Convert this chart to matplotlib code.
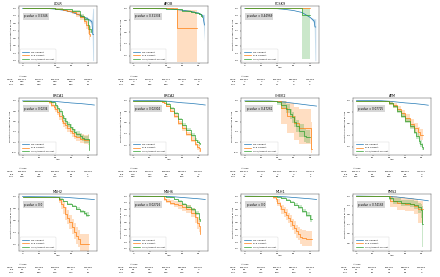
import matplotlib
matplotlib.use("Agg")
import matplotlib.pyplot as plt
import matplotlib.transforms as mtransforms
import numpy as np

# ── colours / layout ─────────────────────────────────────────
BLUE = "#1f77b4"
ORANGE = "#ff7f0e"
GREEN = "#2ca02c"
GROUP_LABELS = ["No Variant", "PLP Variant", "VUS/Absent Variant"]
ROW_LABELS = ["None", "PLP", "VUS"]
AGE_TICKS = [0, 20, 40, 60, 80]

# ── survival curves: (age, surv, lower CI, upper CI) ─────────
LDLR_NONE = [(0, 1, 1, 1), (30, .998, .998, .998), (40, .99, .99, .99), (50, .975, .975, .975),
             (60, .95, .95, .95), (70, .91, .905, .915), (80, .86, .85, .87), (85, .82, .79, .85),
             (86, .65, .30, 1.0), (87, .65, .30, 1.0)]
LDLR_PLP = [(0, 1, 1, 1), (40, .995, .99, 1), (50, .98, .97, .99), (55, .965, .95, .98),
            (60, .95, .93, .97), (65, .92, .89, .95), (70, .88, .85, .91), (75, .83, .79, .87),
            (78, .78, .73, .83), (80, .72, .66, .78), (82, .65, .57, .73), (83, .63, .55, .71)]
LDLR_VUS = [(0, 1, 1, 1), (40, .997, .99, 1), (50, .985, .975, .995), (60, .96, .945, .975),
            (70, .90, .875, .925), (75, .86, .83, .89), (80, .78, .74, .82), (82, .72, .67, .77),
            (84, .68, .62, .74)]

APOB_NONE = [(0, 1, 1, 1), (40, .995, .995, .995), (50, .985, .985, .985), (60, .97, .97, .97),
             (70, .95, .95, .95), (80, .92, .91, .93), (85, .88, .86, .90), (86, .80, .65, .90),
             (87, .72, .45, .90)]
APOB_PLP = [(0, 1, 1, 1), (53, .667, .10, .97), (78, .667, .10, .97)]
APOB_VUS = [(0, 1, 1, 1), (40, .995, .99, 1), (50, .985, .975, .995), (60, .965, .955, .975),
            (70, .945, .93, .96), (75, .93, .915, .945), (80, .91, .89, .93), (83, .88, .855, .905),
            (84, .85, .82, .88)]

PCSK9_NONE = [(0, 1, 1, 1), (40, .995, .995, .995), (50, .985, .985, .985), (60, .97, .97, .97),
              (70, .945, .945, .945), (80, .88, .875, .885), (85, .83, .80, .86), (86, .75, .30, .86),
              (87, .75, .30, .86)]
PCSK9_PLP = [(0, 1, 1, 1), (80, 1, 1, 1)]
PCSK9_VUS = [(0, 1, 1, 1), (70, .91, .32, 1.0), (80, .91, .32, 1.0)]

BRCA1_NONE = [(0, 1, 1, 1), (30, .999, .999, .999), (40, .99, .99, .99), (50, .975, .975, .975),
              (60, .96, .96, .96), (70, .95, .95, .95), (80, .935, .935, .935), (88, .92, .92, .92)]
BRCA1_PLP = [(0, 1, 1, 1), (28, .99, .97, 1), (32, .97, .94, 1), (35, .93, .89, .97),
             (38, .88, .83, .93), (40, .84, .78, .90), (42, .78, .72, .84), (45, .70, .63, .77),
             (48, .62, .55, .69), (50, .57, .50, .64), (52, .53, .46, .60), (55, .47, .40, .54),
             (58, .42, .35, .49), (60, .38, .31, .45), (63, .33, .26, .40), (66, .30, .23, .37),
             (70, .27, .19, .35), (75, .25, .16, .34), (80, .25, .14, .36), (82, .25, .14, .36)]
BRCA1_VUS = [(0, 1, 1, 1), (30, .995, .98, 1), (35, .97, .95, .99), (40, .92, .89, .95),
             (42, .87, .83, .91), (45, .80, .76, .84), (48, .72, .67, .77), (50, .66, .61, .71),
             (52, .61, .56, .66), (55, .55, .50, .60), (58, .50, .45, .55), (60, .45, .40, .50),
             (63, .40, .35, .45), (66, .36, .31, .41), (70, .32, .26, .38), (73, .28, .22, .34),
             (75, .26, .19, .33), (80, .26, .18, .34), (81, .04, .0, .20), (82, .04, .0, .20)]

BRCA2_NONE = [(0, 1, 1, 1), (30, .999, .999, .999), (40, .99, .99, .99), (50, .975, .975, .975),
              (60, .96, .96, .96), (70, .95, .95, .95), (80, .935, .935, .935), (88, .92, .92, .92)]
BRCA2_PLP = [(0, 1, 1, 1), (35, .98, .96, 1), (38, .95, .93, .97), (40, .91, .88, .94),
             (45, .82, .79, .85), (50, .72, .68, .76), (55, .60, .56, .64), (60, .50, .46, .54),
             (65, .40, .36, .44), (70, .30, .26, .34), (75, .22, .18, .26), (78, .17, .12, .22),
             (80, .14, .08, .20), (82, .10, .04, .18)]
BRCA2_VUS = [(0, 1, 1, 1), (35, .99, .98, 1), (40, .94, .92, .96), (45, .86, .84, .88),
             (50, .77, .75, .79), (55, .67, .65, .69), (60, .57, .55, .59), (65, .47, .45, .50),
             (70, .38, .35, .41), (75, .30, .27, .33), (78, .26, .23, .30), (80, .23, .19, .27),
             (82, .22, .18, .27)]

CHEK2_NONE = [(0, 1, 1, 1), (30, .999, .999, .999), (40, .99, .99, .99), (50, .975, .975, .975),
              (60, .955, .955, .955), (70, .935, .935, .935), (80, .915, .915, .915), (88, .90, .90, .90)]
CHEK2_PLP = [(0, 1, 1, 1), (45, .857, .55, 1.0), (52, .71, .38, .95), (60, .57, .25, .88),
             (66, .48, .16, .84), (80, .48, .16, .84), (81, .06, .0, .60), (82, .06, .0, .60)]
CHEK2_VUS = [(0, 1, 1, 1), (40, .97, .92, 1), (45, .92, .85, .99), (50, .85, .76, .94),
             (55, .75, .65, .85), (58, .68, .57, .79), (60, .60, .49, .71), (63, .52, .40, .64),
             (67, .42, .30, .55), (72, .33, .21, .46), (75, .30, .19, .44), (80, .30, .19, .44)]

ATM_NONE = [(0, 1, 1, 1), (30, .999, .999, .999), (40, .99, .99, .99), (50, .975, .975, .975),
            (60, .96, .96, .96), (70, .95, .95, .95), (80, .935, .935, .935), (88, .92, .92, .92)]
ATM_PLP = [(0, 1, 1, 1), (35, .99, .97, 1), (40, .96, .93, .99), (45, .92, .88, .96),
           (50, .86, .81, .91), (55, .78, .72, .84), (60, .70, .63, .77), (65, .60, .52, .68),
           (70, .52, .44, .61), (75, .45, .36, .54), (78, .40, .31, .51), (82, .40, .30, .52)]
ATM_VUS = [(0, 1, 1, 1), (35, .99, .98, 1), (40, .95, .93, .97), (45, .90, .87, .93),
           (50, .82, .79, .85), (55, .74, .70, .78), (60, .65, .61, .69), (65, .55, .50, .60),
           (70, .46, .41, .51), (73, .38, .33, .44), (76, .30, .24, .36), (78, .25, .19, .32),
           (80, .20, .14, .27), (82, .15, .08, .24)]

MSH2_NONE = [(0, 1, 1, 1), (40, .995, .995, .995), (50, .99, .99, .99), (60, .98, .98, .98),
             (70, .97, .97, .97), (80, .96, .96, .96), (88, .95, .95, .95)]
MSH2_PLP = [(0, 1, 1, 1), (45, .95, .90, 1), (47, .88, .80, .96), (50, .82, .72, .92),
            (52, .72, .61, .83), (55, .65, .54, .77), (57, .58, .46, .70), (60, .50, .38, .63),
            (63, .42, .30, .56), (65, .35, .22, .49), (68, .30, .17, .44), (70, .22, .10, .38),
            (82, .22, .10, .38)]
MSH2_VUS = [(0, 1, 1, 1), (40, .99, .985, .995), (45, .96, .95, .97), (50, .92, .905, .935),
            (55, .88, .86, .90), (60, .84, .82, .86), (65, .80, .775, .825), (70, .76, .735, .785),
            (75, .73, .70, .76), (78, .70, .66, .74), (82, .70, .66, .74)]

MSH6_NONE = [(0, 1, 1, 1), (40, .995, .995, .995), (50, .99, .99, .99), (60, .98, .98, .98),
             (70, .97, .97, .97), (80, .96, .96, .96), (88, .95, .95, .95)]
MSH6_PLP = [(0, 1, 1, 1), (38, .95, .92, .98), (40, .93, .90, .96), (45, .90, .86, .94),
            (50, .88, .84, .92), (55, .86, .81, .91), (60, .83, .78, .88), (65, .80, .74, .86),
            (70, .75, .68, .82), (75, .68, .60, .76), (78, .60, .51, .69), (80, .55, .45, .65),
            (82, .42, .22, .60)]
MSH6_VUS = [(0, 1, 1, 1), (40, .99, .985, .995), (45, .98, .97, .99), (50, .95, .94, .96),
            (55, .92, .905, .935), (60, .88, .86, .90), (65, .84, .82, .86), (70, .80, .775, .825),
            (75, .74, .71, .77), (80, .65, .61, .69), (82, .62, .56, .68)]

MLH1_NONE = [(0, 1, 1, 1), (40, .995, .995, .995), (50, .99, .99, .99), (60, .98, .98, .98),
             (70, .97, .97, .97), (80, .96, .96, .96), (88, .95, .95, .95)]
MLH1_PLP = [(0, 1, 1, 1), (35, .98, .95, 1), (38, .95, .91, .99), (40, .90, .85, .95),
            (43, .85, .79, .91), (45, .80, .73, .87), (48, .76, .69, .83), (50, .72, .64, .80),
            (53, .67, .59, .75), (55, .62, .54, .71), (58, .57, .48, .66), (60, .52, .43, .62),
            (63, .47, .37, .57), (65, .43, .33, .54), (68, .38, .28, .50), (70, .36, .25, .48),
            (75, .35, .24, .47), (82, .35, .24, .47)]
MLH1_VUS = [(0, 1, 1, 1), (40, .99, .985, .995), (45, .97, .96, .98), (50, .94, .925, .955),
            (55, .91, .89, .93), (60, .87, .85, .89), (65, .83, .80, .86), (70, .78, .75, .81),
            (75, .72, .68, .76), (80, .66, .61, .71), (82, .65, .59, .71)]

PMS2_NONE = [(0, 1, 1, 1), (40, .995, .995, .995), (50, .99, .99, .99), (60, .98, .98, .98),
             (70, .97, .97, .97), (80, .96, .96, .96), (88, .95, .95, .95)]
PMS2_PLP = [(0, 1, 1, 1), (41, .95, .88, 1), (50, .93, .85, .99), (60, .92, .84, .98),
            (70, .90, .81, .97), (75, .86, .72, .95), (82, .86, .72, .95)]
PMS2_VUS = [(0, 1, 1, 1), (40, .98, .96, 1), (45, .95, .92, .98), (55, .93, .89, .96),
            (65, .92, .88, .955), (70, .91, .86, .95), (75, .88, .82, .93), (79, .85, .77, .92),
            (80, .70, .46, .90), (82, .70, .46, .90)]

# ── panels ───────────────────────────────────────────────────
GENES = ["LDLR", "APOB", "PCSK9", "BRCA1", "BRCA2", "CHEK2", "ATM", "MSH2", "MSH6", "MLH1", "PMS2"]
P_VALUES = ["0.5346", "0.31334", "0.44969", "0.0234", "0.02304", "0.47261", "0.07725",
            "0.0", "0.02726", "0.0", "0.74163"]
CURVES = [
    (LDLR_NONE, LDLR_PLP, LDLR_VUS), (APOB_NONE, APOB_PLP, APOB_VUS),
    (PCSK9_NONE, PCSK9_PLP, PCSK9_VUS), (BRCA1_NONE, BRCA1_PLP, BRCA1_VUS),
    (BRCA2_NONE, BRCA2_PLP, BRCA2_VUS), (CHEK2_NONE, CHEK2_PLP, CHEK2_VUS),
    (ATM_NONE, ATM_PLP, ATM_VUS), (MSH2_NONE, MSH2_PLP, MSH2_VUS),
    (MSH6_NONE, MSH6_PLP, MSH6_VUS), (MLH1_NONE, MLH1_PLP, MLH1_VUS),
    (PMS2_NONE, PMS2_PLP, PMS2_VUS),
]
Y_LIMITS = [(0.27, 1.03), (0.08, 1.04), (0.27, 1.03), (-0.05, 1.05), (0.02, 1.04), (-0.05, 1.05),
            (0.05, 1.04), (0.1, 1.04), (0.17, 1.03), (0.17, 1.03), (0.42, 1.02)]
Y_STEPS = [0.1, 0.2, 0.1, 0.2, 0.2, 0.2, 0.2, 0.2, 0.1, 0.1, 0.1]

# at-risk counts at ages 0, 20, 40, 60, 80
RISK_NONE = [
    [565222, 563172, 545478, 467978, 245886], [565073, 563173, 545177, 466994, 245330],
    [565380, 563360, 545282, 466984, 245418], [565302, 563195, 545362, 467118, 246606],
    [565213, 563145, 545082, 467052, 246601], [565374, 563292, 545231, 466977, 246473],
    [565271, 563203, 545080, 466830, 246540], [565060, 563088, 545029, 466905, 276955],
    [565344, 563269, 545408, 466958, 276642], [565141, 563132, 545172, 466022, 276923],
    [565126, 563108, 545131, 466223, 276868],
]
RISK_PLP = [[322, 322, 319, 287, 21], [3, 3, 3, 2, 0], [7, 7, 7, 6, 0], [66, 66, 57, 29, 1],
            [119, 117, 99, 46, 3], [7, 7, 7, 4, 1], [83, 83, 83, 53, 4], [22, 22, 22, 9, 1],
            [79, 79, 68, 38, 4], [98, 98, 96, 43, 2], [24, 24, 23, 10, 1]]
RISK_VUS = [[323, 323, 321, 293, 26], [535, 535, 530, 475, 45], [11, 11, 11, 9, 2],
            [138, 136, 122, 57, 3], [450, 444, 384, 202, 13], [31, 31, 29, 14, 1],
            [195, 195, 189, 108, 6], [280, 280, 276, 214, 16], [342, 340, 336, 276, 22],
            [212, 212, 209, 160, 17], [68, 68, 67, 36, 3]]

PANEL_SLOTS = [(0, 0), (0, 1), (0, 2), (1, 0), (1, 1), (1, 2), (1, 3),
               (2, 0), (2, 1), (2, 2), (2, 3)]
COL_LEFT = [0.043, 0.295, 0.548, 0.802]
ROW_BOTTOM = [0.773, 0.44, 0.094]
AX_W, AX_H = 0.178, 0.205

FS = 1.7


def draw_curve(ax, rows, color, label, smooth=False):
    arr = np.array(rows, dtype=float)
    t, s, lo, hi = arr.T
    if smooth:
        ax.plot(t, s, color=color, lw=0.5, label=label)
        ax.fill_between(t, lo, hi, color=color, alpha=0.25, lw=0)
    else:
        ax.step(t, s, where="post", color=color, lw=0.5, label=label)
        ax.fill_between(t, lo, hi, step="post", color=color, alpha=0.25, lw=0)


fig = plt.figure(figsize=(4.4, 2.77), dpi=100)
fig.patch.set_facecolor("white")

for i, gene in enumerate(GENES):
    r, c = PANEL_SLOTS[i]
    ax = fig.add_axes([COL_LEFT[c], ROW_BOTTOM[r], AX_W, AX_H])
    none, plp, vus = CURVES[i]
    draw_curve(ax, none, BLUE, GROUP_LABELS[0], smooth=True)
    draw_curve(ax, plp, ORANGE, GROUP_LABELS[1])
    draw_curve(ax, vus, GREEN, GROUP_LABELS[2])

    ax.set_xlim(-4.4, 91.5)
    ax.set_ylim(*Y_LIMITS[i])
    ax.set_xticks(AGE_TICKS)
    step = Y_STEPS[i]
    lo_tick = np.ceil(max(Y_LIMITS[i][0], 0) / step - 1e-9) * step
    ax.set_yticks(np.arange(lo_tick, 1.0001, step))
    ax.yaxis.set_major_formatter(matplotlib.ticker.FormatStrFormatter("%.1f"))
    ax.tick_params(labelsize=FS, length=1.0, width=0.3, pad=0.6)
    for sp in ax.spines.values():
        sp.set_linewidth(0.35)
        sp.set_color("#555555")
    ax.set_title(gene, fontsize=2.4, pad=1.0)
    ax.set_xlabel("Age", fontsize=FS, labelpad=0.6)
    ax.set_ylabel("Proportion Unaffected by Age", fontsize=FS * 0.9, labelpad=1.0)

    ax.text(0.07, 0.80, f"p-value = {P_VALUES[i]}", transform=ax.transAxes, fontsize=2.0,
            bbox=dict(boxstyle="square,pad=0.45", facecolor="#d8d8d8", edgecolor="none"))
    leg = ax.legend(loc="lower left", fontsize=FS, handlelength=3.0, borderpad=0.7,
                    labelspacing=0.75, frameon=True, fancybox=True)
    leg.get_frame().set_linewidth(0.3)

    # at-risk table under the axis
    trans = mtransforms.blended_transform_factory(ax.transData, ax.transAxes)
    ax.text(AGE_TICKS[0], -0.23, "At risk", transform=trans, fontsize=FS, ha="center", va="center")
    for k, row in enumerate([RISK_NONE[i], RISK_PLP[i], RISK_VUS[i]]):
        y = -0.285 - 0.05 * k
        ax.text(-0.07, y, ROW_LABELS[k], transform=ax.transAxes, fontsize=FS,
                ha="right", va="center")
        for x, v in zip(AGE_TICKS, row):
            ax.text(x, y, str(v), transform=trans, fontsize=FS, ha="center", va="center")

fig.savefig("out.png", dpi=100, facecolor="white")
